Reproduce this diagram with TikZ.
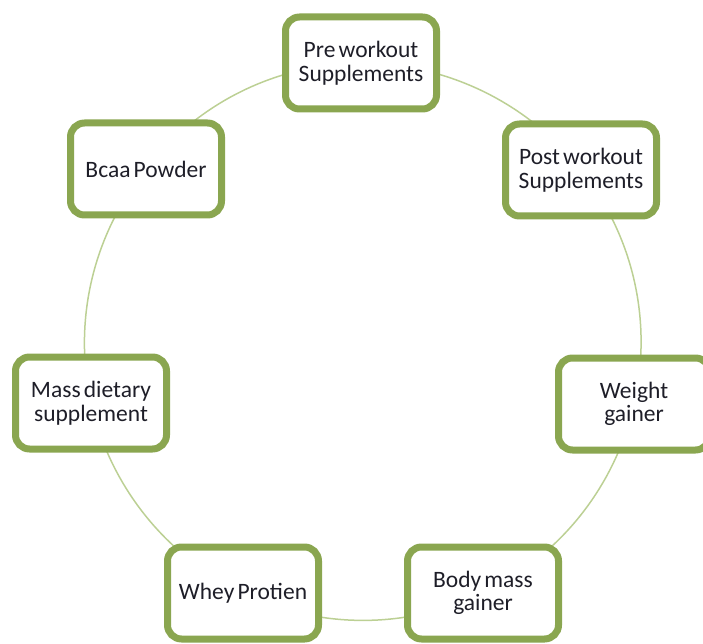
\documentclass[tikz,border=0pt]{standalone}
\usepackage{fontspec}
\setmainfont{Carlito}[WordSpace=0.6]
\usetikzlibrary{shadows,backgrounds}
\definecolor{boxgreen}{RGB}{138,166,80}
\definecolor{ringgreen}{RGB}{188,208,148}
\definecolor{txt}{RGB}{30,30,40}
\begin{document}
\begin{tikzpicture}[x=1pt,y=-1pt,
  item/.style={draw=boxgreen, line width=7pt, fill=white, rounded corners=14pt,
    minimum width=151pt, minimum height=92pt, align=center, inner sep=0pt,
    font=\fontsize{23.5}{23.5}\selectfont, text=txt,
    drop shadow={opacity=0.3, shadow xshift=1.5pt, shadow yshift=-2pt}},
  ring/.style={draw=ringgreen, line width=1.5pt, bend left=25.7, looseness=0.9}]
\useasboundingbox (0,0) rectangle (703,644);
\node[item] (pre)   at (361,63)  {Pre workout\\Supplements};
\node[item] (post)  at (581,170) {Post workout\\Supplements};
\node[item] (wg)    at (634,404) {Weight\\gainer};
\node[item] (body)  at (483,593) {Body mass\\gainer};
\node[item] (whey)  at (243,593) {Whey Protien};
\node[item] (mass)  at (91,403)  {Mass dietary\\supplement};
\node[item] (bcaa)  at (146,169) {Bcaa Powder};
\begin{scope}[on background layer]
\draw[ring] (pre.center) to (post.center);
\draw[ring] (post.center) to (wg.center);
\draw[ring] (wg.center) to (body.center);
\draw[ring] (body.center) to (whey.center);
\draw[ring] (whey.center) to (mass.center);
\draw[ring] (mass.center) to (bcaa.center);
\draw[ring] (bcaa.center) to (pre.center);
\end{scope}
\end{tikzpicture}
\end{document}
